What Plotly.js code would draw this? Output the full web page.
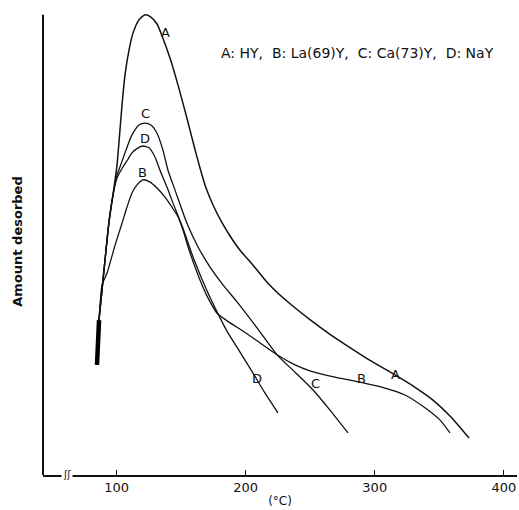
<!DOCTYPE html>
<html>
<head>
<meta charset="utf-8">
<script src="https://cdn.plot.ly/plotly-3.0.1.min.js"></script>
<style>html,body{margin:0;padding:0;background:#fff;}#chart{width:519px;height:510px;}</style>
</head>
<body>
<div id="chart"></div>
<script>
// Temperature (°C) and amount desorbed (arbitrary units, 0-100)
const aTemp = [84.8, 86.4, 88.7, 91.0, 94.1, 97.2, 100.3, 102.6, 104.2, 106.5, 109.6, 112.7, 117.3, 122.0, 126.6, 131.3, 135.9, 141.4, 146.0, 150.7, 155.3, 160.0, 164.6, 169.3, 174.7, 180.9, 187.9, 195.6, 204.9, 216.5, 230.5, 249.8, 265.3, 280.8, 296.3, 315.7, 331.2, 345.1, 358.3, 373.0];
const aAmt  = [24.1, 33.9, 40.5, 47.0, 55.4, 61.3, 67.8, 75.5, 81.0, 87.5, 93.0, 96.7, 99.6, 100.7, 100.2, 98.7, 95.6, 91.2, 86.9, 82.1, 77.2, 72.0, 67.2, 62.8, 59.1, 55.6, 52.3, 49.2, 46.2, 42.2, 38.4, 34.0, 30.8, 27.9, 25.1, 21.9, 19.2, 16.4, 12.9, 8.1];

const bTemp = [84.8, 86.4, 88.7, 92.6, 98.8, 104.2, 108.0, 111.9, 115.8, 120.4, 125.9, 131.3, 137.5, 142.9, 147.6, 151.4, 156.9, 166.9, 172.4, 177.8, 187.9, 197.9, 211.1, 224.3, 238.2, 249.8, 269.2, 288.6, 307.9, 323.4, 338.9, 350.6, 358.3];
const bAmt  = [24.1, 33.9, 41.6, 44.2, 50.3, 55.1, 58.6, 61.7, 63.5, 64.6, 64.1, 62.8, 60.8, 58.6, 56.5, 53.6, 48.6, 41.1, 37.9, 35.4, 33.3, 31.5, 28.9, 26.3, 24.1, 22.8, 21.4, 20.3, 19.0, 17.5, 14.7, 12.0, 9.2];

const cTemp = [84.8, 86.4, 88.7, 91.0, 94.1, 97.2, 100.3, 102.6, 106.5, 109.6, 112.7, 117.3, 122.0, 126.6, 131.3, 135.9, 139.8, 145.2, 154.5, 163.1, 172.4, 182.4, 193.3, 208.8, 224.3, 238.2, 252.2, 265.3, 279.3];
const cAmt  = [24.1, 33.9, 40.5, 47.0, 55.4, 61.3, 65.6, 67.4, 70.5, 72.9, 74.8, 76.6, 77.0, 76.6, 74.8, 71.1, 66.7, 62.4, 55.1, 49.9, 45.5, 41.6, 37.9, 32.2, 26.3, 22.5, 18.6, 14.2, 9.2];

const dTemp = [84.8, 86.4, 88.7, 91.0, 94.1, 97.2, 100.3, 104.9, 108.8, 111.9, 116.6, 120.4, 125.1, 129.7, 133.6, 139.0, 143.7, 151.4, 159.2, 170.0, 177.8, 185.5, 195.6, 205.7, 215.0, 225.0];
const dAmt  = [24.1, 33.9, 40.5, 47.0, 55.4, 61.3, 65.0, 67.4, 69.1, 70.5, 71.6, 72.0, 71.6, 69.6, 66.7, 63.0, 59.5, 54.0, 47.7, 40.3, 35.7, 31.5, 26.9, 22.3, 17.9, 13.6];

const tickVals = [100, 200, 300, 400];
const tickText = ['100', '200', '300', '400'];

const curveLabels = ['A', 'C', 'D', 'B', 'D', 'C', 'B', 'A'];
const labelTemp   = [137.5, 122.0, 122.0, 120.4, 208.8, 253.7, 290.1, 315.7];
const labelAmt    = [96.9, 79.2, 73.7, 66.3, 21.2, 20.1, 21.2, 21.9];

const legendText = 'A: HY,&nbsp; B: La(69)Y,&nbsp; C: Ca(73)Y,&nbsp; D: NaY';

const FONT = 'DejaVu Sans, Liberation Sans, sans-serif';
const line = (w) => ({color: '#111', width: w, shape: 'spline', smoothing: 0.6});

const traces = [
  {x: aTemp, y: aAmt, mode: 'lines', line: line(1.5), hoverinfo: 'skip'},
  {x: bTemp, y: bAmt, mode: 'lines', line: line(1.3), hoverinfo: 'skip'},
  {x: cTemp, y: cAmt, mode: 'lines', line: line(1.3), hoverinfo: 'skip'},
  {x: dTemp, y: dAmt, mode: 'lines', line: line(1.3), hoverinfo: 'skip'},
  // thick inked start of the curves
  {x: aTemp.slice(0, 2), y: aAmt.slice(0, 2), mode: 'lines', line: {color: '#000', width: 4.5}, hoverinfo: 'skip'}
];

const annotations = curveLabels.map((t, i) => ({
  x: labelTemp[i], y: labelAmt[i], xref: 'x', yref: 'y', text: t, showarrow: false,
  font: {family: FONT, size: 13, color: '#111'}
}));
annotations.push({
  x: 286.3, y: 92.3, xref: 'x', yref: 'y', text: legendText, showarrow: false,
  font: {family: FONT, size: 14, color: '#111'}
});
annotations.push({
  x: 61.6, y: 0, xref: 'x', yref: 'y', text: 'ʃʃ', showarrow: false, yshift: 1,
  font: {family: FONT, size: 10, color: '#111'}, bgcolor: '#fff'
});

const layout = {
  width: 519, height: 510,
  margin: {l: 43, r: 2, t: 8, b: 35, pad: 0},
  paper_bgcolor: '#fff', plot_bgcolor: '#fff',
  showlegend: false,
  font: {family: FONT, color: '#111'},
  xaxis: {
    range: [42.97, 410.2], showgrid: false, zeroline: false,
    showline: true, linecolor: '#111', linewidth: 1.5,
    tickmode: 'array', tickvals: tickVals, ticktext: tickText,
    ticks: 'inside', ticklen: 5, tickwidth: 1.2, tickcolor: '#111',
    tickfont: {family: FONT, size: 13, color: '#111'},
    title: {text: '(°C)', font: {family: FONT, size: 12, color: '#111'}, standoff: 2}
  },
  yaxis: {
    range: [0, 102.2], showgrid: false, zeroline: false, showline: false,
    showticklabels: false, ticks: '',
    title: {text: '<b>Amount desorbed</b>', font: {family: FONT, size: 13, color: '#111'}, standoff: 16}
  },
  shapes: [
    {type: 'line', xref: 'paper', yref: 'y', x0: 0, x1: 0, y0: 0, y1: 100.7, line: {color: '#111', width: 2}}
  ],
  annotations: annotations
};

Plotly.newPlot('chart', traces, layout, {displayModeBar: false, staticPlot: true});
</script>
</body>
</html>
